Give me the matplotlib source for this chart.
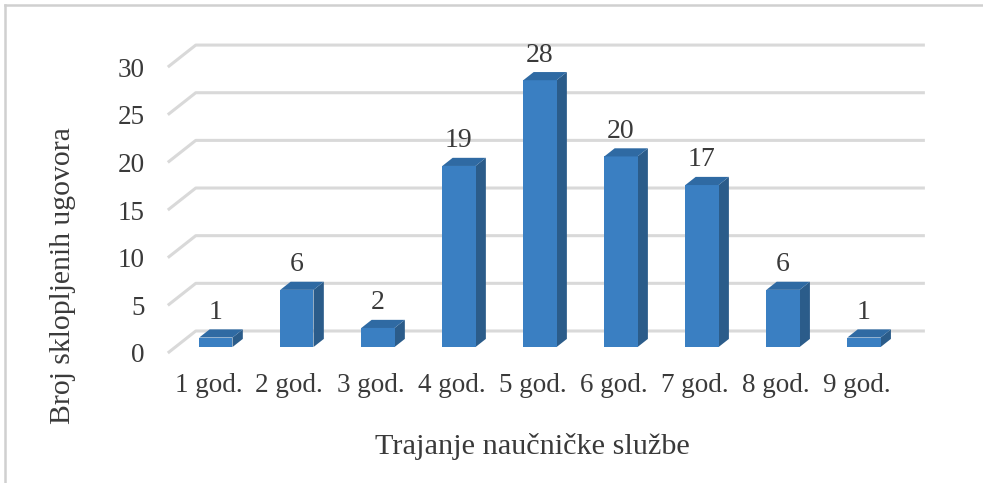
import numpy as np
import matplotlib
matplotlib.use('Agg')
import matplotlib.pyplot as plt
from matplotlib.patches import Polygon
from matplotlib.lines import Line2D

# data
categories = ['1 god.', '2 god.', '3 god.', '4 god.', '5 god.', '6 god.', '7 god.', '8 god.', '9 god.']
counts = [1, 6, 2, 19, 28, 20, 17, 6, 1]
yticks = [0, 5, 10, 15, 20, 25, 30]

plt.rcParams['font.family'] = ['Liberation Serif', 'DejaVu Serif']
text_color = '#3a3a3a'

# oblique "3D" projection: depth d (0 = front, 1 = back wall)
DX = 0.345   # depth shift in category units
DY = 2.31    # depth shift in value units
d0, d1 = 0.27, 0.64   # bar front / back depth
w = 0.41

front_c = '#3a7fc2'
top_c = '#2f6aa3'
side_c = '#2b5c8a'
grid_c = '#d9d9d9'

fig = plt.figure(figsize=(9.83, 4.83), dpi=100)
ax = fig.add_axes([150 / 983, 123 / 483, 800 / 983, 340 / 483])
ax.set_xlim(0.28, 10.155)
ax.set_ylim(-0.735, 34.94)

x = np.arange(1, len(categories) + 1)

# gridlines: left side diagonal + back wall
for v in yticks:
    ax.plot([0.5, 0.5 + DX, 9.5 + DX], [v, v + DY, v + DY], color=grid_c, lw=2.2,
            solid_capstyle='butt', zorder=1)

# front faces
ax.bar(x + d0 * DX, counts, width=w, bottom=d0 * DY, color=front_c, zorder=3)

for c, v in zip(x, counts):
    r = c + w / 2
    l = c - w / 2
    side = [(r + d0 * DX, d0 * DY), (r + d1 * DX, d1 * DY),
            (r + d1 * DX, v + d1 * DY), (r + d0 * DX, v + d0 * DY)]
    top = [(l + d0 * DX, v + d0 * DY), (r + d0 * DX, v + d0 * DY),
           (r + d1 * DX, v + d1 * DY), (l + d1 * DX, v + d1 * DY)]
    ax.add_patch(Polygon(side, closed=True, facecolor=side_c, edgecolor='none', zorder=2))
    ax.add_patch(Polygon(top, closed=True, facecolor=top_c, edgecolor='none', zorder=4))
    ax.annotate(str(v), xy=(c + d0 * DX, v + d1 * DY), xytext=(0, 7.5),
                textcoords='offset points', ha='center', va='baseline',
                fontsize=20, color=text_color)

ax.set_yticks(yticks)
ax.set_yticklabels([str(t) for t in yticks])
ax.set_xticks(x)
ax.set_xticklabels(categories)
ax.tick_params(axis='y', length=0, pad=3.6, labelsize=19.5, labelcolor=text_color)
ax.tick_params(axis='x', length=0, pad=9.5, labelsize=19.5, labelcolor=text_color)
for s in ax.spines.values():
    s.set_visible(False)
ax.patch.set_alpha(0)

fig.text(532 / 983, 1 - 447 / 483, 'Trajanje naučničke službe', ha='center', va='center',
         fontsize=21.8, color=text_color)
fig.text(63 / 983, 1 - 276 / 483, 'Broj sklopljenih ugovora', ha='center', va='center',
         rotation=90, fontsize=21.3, color=text_color)

# outer frame (top and left only)
fig.add_artist(Line2D([5 / 983, 5 / 983], [0, 1 - 5 / 483], color='#d0d0d0', lw=1.8,
                      transform=fig.transFigure))
fig.add_artist(Line2D([5 / 983, 1], [1 - 5 / 483, 1 - 5 / 483], color='#d0d0d0', lw=1.8,
                      transform=fig.transFigure))

fig.savefig('out.png', dpi=100)
